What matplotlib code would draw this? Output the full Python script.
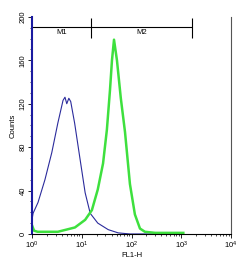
import matplotlib
matplotlib.use('Agg')
import numpy as np
import matplotlib.pyplot as plt
from matplotlib.ticker import LogLocator, MultipleLocator

plt.rcParams['font.family'] = ['Liberation Sans', 'DejaVu Sans']

# -----------------------------
# DATA
# -----------------------------
blue_fl = [1.0, 1.05, 1.32, 1.82, 2.5, 3.3, 4.2, 4.6, 5.0, 5.5, 6.0, 7.2, 9.1,
           11.7, 14.8, 21, 34, 54, 93, 370]
blue_counts = [13, 19, 29, 50, 75, 102, 123, 126, 120, 125, 122, 102, 71,
               38, 19, 10, 4, 1, 0, 0]

green_fl = [1.0, 1.1, 1.3, 3.3, 7.3, 11.7, 16, 21, 26.8, 32, 37, 40.5, 44.5,
            51, 61, 74, 93, 117, 148, 186, 300, 1100]
green_counts = [8, 3, 2, 2, 6, 13, 22, 41, 65, 96, 133, 160, 179,
                160, 125, 94, 46, 18, 5, 2, 1, 1]

marker_names = ["M1", "M2"]
marker_edges = [1.0, 15, 1650]
marker_level = 191

# -----------------------------
# PLOT
# -----------------------------
fig = plt.figure(figsize=(2.5, 2.68), dpi=100)
ax = fig.add_axes([0.128, 0.127, 0.796, 0.81])

ax.plot(blue_fl, blue_counts, color="#2b2b9c", lw=0.8)
ax.plot(green_fl, green_counts, color="#3ee03e", lw=1.8)

ax.set_xscale("log")
ax.set_xlim(1, 1e4)
ax.set_ylim(0, 200)

# marker gates
ax.hlines(marker_level, marker_edges[0], marker_edges[-1], color="black", lw=0.8)
for e in marker_edges[1:]:
    ax.vlines(e, marker_level - 10, marker_level + 8, color="black", lw=0.8)
for i, name in enumerate(marker_names):
    mid = np.sqrt(marker_edges[i] * marker_edges[i + 1])
    ax.text(mid, marker_level - 2, name, ha="center", va="top", fontsize=5.5)

ax.spines["top"].set_visible(False)
ax.spines["left"].set_color("#1a1aa0")
ax.spines["left"].set_linewidth(1.5)
ax.spines["right"].set_color("#555555")
ax.spines["bottom"].set_linewidth(0.8)

ax.yaxis.set_major_locator(MultipleLocator(40))
ax.yaxis.set_minor_locator(MultipleLocator(10))
ax.xaxis.set_major_locator(LogLocator(base=10))
ax.xaxis.set_minor_locator(LogLocator(base=10, subs=np.arange(2, 10)))
ax.tick_params(axis="both", which="major", labelsize=5.5, length=3, width=0.6, pad=1)
ax.tick_params(axis="both", which="minor", length=1.5, width=0.5)
for lbl in ax.get_yticklabels():
    lbl.set_rotation(90)
    lbl.set_va("center")

ax.set_xlabel("FL1-H", fontsize=5.5, labelpad=1)
ax.set_ylabel("Counts", fontsize=5.5, labelpad=2)

fig.savefig("out.png", dpi=100)
